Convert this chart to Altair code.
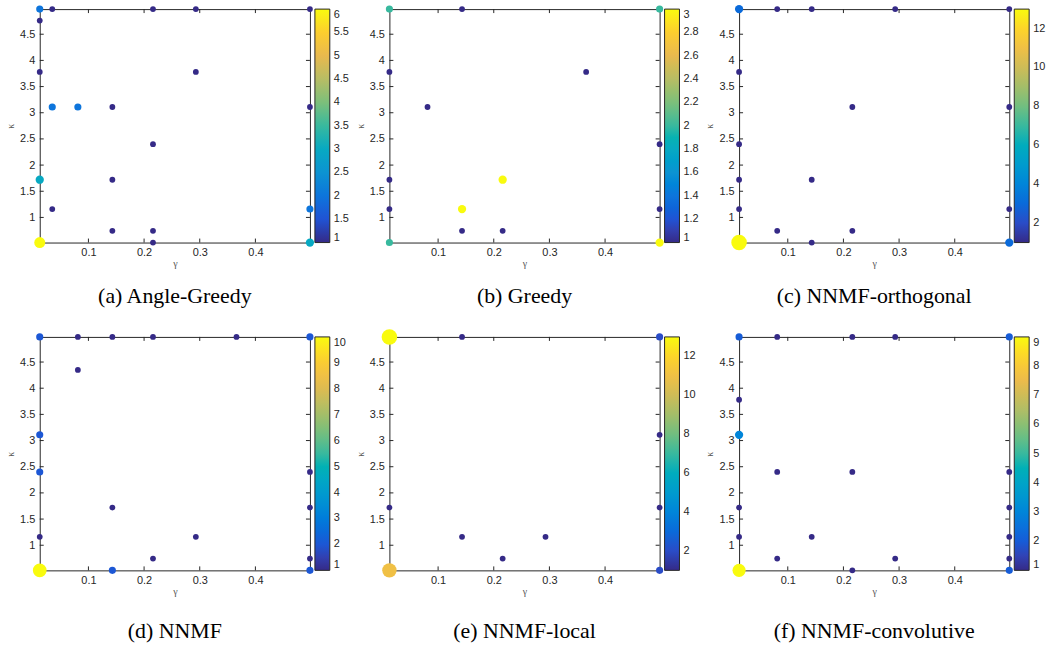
import altair as alt
import pandas as pd

# ---------------- data ----------------
G = [0.0125, 0.035, 0.081, 0.143, 0.216, 0.293, 0.366, 0.498]   # gamma grid
K = [0.52, 0.745, 1.16, 1.72, 2.40, 3.11, 3.78, 4.35, 4.76, 4.98]  # kappa grid

titles = ["(a) Angle-Greedy", "(b) Greedy", "(c) NNMF-orthogonal",
          "(d) NNMF", "(e) NNMF-local", "(f) NNMF-convolutive"]

# each panel: gamma values, kappa values, counts
a_gamma = [0.0125, 0.035, 0.216, 0.293, 0.498, 0.0125, 0.0125, 0.293, 0.035, 0.081, 0.143, 0.498,
           0.216, 0.0125, 0.035, 0.498, 0.143, 0.143, 0.216, 0.216, 0.0125, 0.498]
a_kappa = [4.98, 4.98, 4.98, 4.98, 4.98, 4.76, 3.78, 3.78, 3.11, 3.11, 3.11, 3.11,
           2.40, 1.72, 1.16, 1.16, 1.72, 0.745, 0.745, 0.52, 0.52, 0.52]
a_count = [2, 1, 1, 1, 1, 1, 1, 1, 2, 2, 1, 1,
           1, 3, 1, 2, 1, 1, 1, 1, 6, 3]

b_gamma = [0.0125, 0.143, 0.498, 0.0125, 0.366, 0.081, 0.498, 0.0125, 0.216, 0.0125, 0.143, 0.498,
           0.143, 0.216, 0.0125, 0.498]
b_kappa = [4.98, 4.98, 4.98, 3.78, 3.78, 3.11, 2.40, 1.72, 1.72, 1.16, 1.16, 1.16,
           0.745, 0.745, 0.52, 0.52]
b_count = [2, 1, 2, 1, 1, 1, 1, 1, 3, 1, 3, 1,
           1, 1, 2, 3]

c_gamma = [0.0125, 0.081, 0.143, 0.293, 0.498, 0.0125, 0.216, 0.498, 0.0125, 0.0125, 0.143,
           0.0125, 0.498, 0.081, 0.216, 0.143, 0.0125, 0.498]
c_kappa = [4.98, 4.98, 4.98, 4.98, 4.98, 3.78, 3.11, 3.11, 2.40, 1.72, 1.72,
           1.16, 1.16, 0.745, 0.745, 0.52, 0.52, 0.52]
c_count = [3, 1, 1, 1, 1, 1, 1, 1, 1, 1, 1,
           1, 1, 1, 1, 1, 13, 3]

d_gamma = [0.0125, 0.081, 0.143, 0.216, 0.366, 0.498, 0.081, 0.0125, 0.0125, 0.498, 0.143, 0.498,
           0.0125, 0.293, 0.216, 0.498, 0.0125, 0.143, 0.498]
d_kappa = [4.98, 4.98, 4.98, 4.98, 4.98, 4.98, 4.35, 3.11, 2.40, 2.40, 1.72, 1.72,
           1.16, 1.16, 0.745, 0.745, 0.52, 0.52, 0.52]
d_count = [2, 1, 1, 1, 1, 2, 1, 2, 2, 1, 1, 1,
           1, 1, 1, 1, 10, 2, 2]

e_gamma = [0.0125, 0.143, 0.498, 0.498, 0.0125, 0.498, 0.143, 0.293, 0.216, 0.0125, 0.498]
e_kappa = [4.98, 4.98, 4.98, 3.11, 1.72, 1.72, 1.16, 1.16, 0.745, 0.52, 0.52]
e_count = [13, 1, 2, 1, 1, 1, 1, 1, 1, 11, 2]

f_gamma = [0.0125, 0.081, 0.216, 0.293, 0.498, 0.0125, 0.0125, 0.081, 0.216, 0.498, 0.0125, 0.498,
           0.0125, 0.143, 0.498, 0.081, 0.293, 0.498, 0.216, 0.0125, 0.498]
f_kappa = [4.98, 4.98, 4.98, 4.98, 4.98, 3.78, 3.11, 2.40, 2.40, 2.40, 1.72, 1.72,
           1.16, 1.16, 1.16, 0.745, 0.745, 0.745, 0.52, 0.52, 0.52]
f_count = [2, 1, 1, 1, 2, 1, 3, 1, 1, 1, 1, 1,
           1, 1, 1, 1, 1, 1, 1, 9, 2]

panels = [
    (a_gamma, a_kappa, a_count),
    (b_gamma, b_kappa, b_count),
    (c_gamma, c_kappa, c_count),
    (d_gamma, d_kappa, d_count),
    (e_gamma, e_kappa, e_count),
    (f_gamma, f_kappa, f_count),
]

cmax = [6, 3, 13, 10, 13, 9]
cbar_ticks = [
    [1, 1.5, 2, 2.5, 3, 3.5, 4, 4.5, 5, 5.5, 6],
    [1, 1.2, 1.4, 1.6, 1.8, 2, 2.2, 2.4, 2.6, 2.8, 3],
    [2, 4, 6, 8, 10, 12],
    [1, 2, 3, 4, 5, 6, 7, 8, 9, 10],
    [2, 4, 6, 8, 10, 12],
    [1, 2, 3, 4, 5, 6, 7, 8, 9],
]
cbar_fmt = [".1~f", ".1~f", "d", "d", "d", "d"]

x_ticks = [0.1, 0.2, 0.3, 0.4]
y_ticks = [1, 1.5, 2, 2.5, 3, 3.5, 4, 4.5]

# ---------------- styling ----------------
PARULA = ["#352a87", "#2053d4", "#0d75dc", "#0c93d2", "#07a9c2", "#38b99e",
          "#7cbf7b", "#b7bd64", "#e9b94e", "#fcce2e", "#f9fb0e"]
W, H = 272, 235
AX = "#262626"
SANS = "Liberation Sans"
SERIF = "Liberation Serif"
TICK = 4

xdom = [min(G), max(G)]
ydom = [min(K), max(K)]

XAXIS = alt.Axis(values=x_ticks, format=".1f", title="γ", ticks=False,
                 domain=False, grid=False, labelFontSize=11, labelColor=AX,
                 labelFont=SANS, labelPadding=4, titleFont=SERIF,
                 titleFontSize=10, titleFontWeight="normal", titleColor="#555555",
                 titlePadding=1)
YAXIS = alt.Axis(values=y_ticks, format=".1~f", title="κ", ticks=False,
                 domain=False, grid=False, labelFontSize=11, labelColor=AX,
                 labelFont=SANS, labelPadding=5, titleFont=SERIF,
                 titleFontSize=10, titleFontWeight="normal", titleColor="#555555",
                 titlePadding=4)


def panel(i):
    g, k, c = panels[i]
    df = pd.DataFrame({"gamma": g, "kappa": k, "count": c})
    n = len(PARULA)
    m = cmax[i]
    cdom = [1 + (m - 1) * j / (n - 1) for j in range(n)]

    xs = alt.Scale(domain=xdom, nice=False, zero=False)
    ys = alt.Scale(domain=ydom, nice=False, zero=False)

    pts = alt.Chart(df).mark_circle(opacity=1).encode(
        x=alt.X("gamma:Q", scale=xs, axis=XAXIS),
        y=alt.Y("kappa:Q", scale=ys, axis=YAXIS),
        color=alt.Color("count:Q",
                        scale=alt.Scale(domain=cdom, range=PARULA),
                        legend=alt.Legend(orient="none", legendX=W + 5, legendY=0,
                                          direction="vertical", title=None,
                                          gradientLength=H, gradientThickness=15,
                                          gradientStrokeColor=AX, gradientStrokeWidth=1,
                                          values=cbar_ticks[i], format=cbar_fmt[i],
                                          labelFontSize=11, labelFont=SANS, labelColor=AX,
                                          labelBaseline="middle", labelOffset=4,
                                          labelOverlap=False, padding=0)),
        size=alt.Size("count:Q", scale=alt.Scale(domain=[1, 13], range=[34, 245]),
                      legend=None),
        order=alt.Order("count:Q", sort="ascending"),
    )

    xt = pd.DataFrame({"gamma": x_ticks})
    yt = pd.DataFrame({"kappa": y_ticks})
    rule = dict(color=AX, strokeWidth=1)
    xb = alt.Chart(xt).mark_rule(**rule).encode(
        x=alt.X("gamma:Q", scale=xs, axis=XAXIS), y=alt.value(H), y2=alt.value(H - TICK))
    xtp = alt.Chart(xt).mark_rule(**rule).encode(
        x=alt.X("gamma:Q", scale=xs, axis=XAXIS), y=alt.value(0), y2=alt.value(TICK))
    yl = alt.Chart(yt).mark_rule(**rule).encode(
        y=alt.Y("kappa:Q", scale=ys, axis=YAXIS), x=alt.value(0), x2=alt.value(TICK))
    yr = alt.Chart(yt).mark_rule(**rule).encode(
        y=alt.Y("kappa:Q", scale=ys, axis=YAXIS), x=alt.value(W), x2=alt.value(W - TICK))

    return alt.layer(pts, xb, xtp, yl, yr).properties(
        width=W, height=H,
        title=alt.TitleParams(text=titles[i], orient="bottom", anchor="middle",
                              font=SERIF, fontSize=22, fontWeight="normal",
                              color="#000000", offset=18 if i < 3 else 25),
    ).resolve_scale(color="independent")


chart = alt.concat(*[panel(i) for i in range(6)], columns=3).properties(
    spacing={"row": 95, "column": 80},
    bounds="flush",
    padding={"left": 5, "top": 2, "right": 5, "bottom": 5},
    background="white",
).configure_view(stroke=AX, strokeWidth=1)

chart.save("out.html", embed_options={"renderer": "svg", "actions": False})
